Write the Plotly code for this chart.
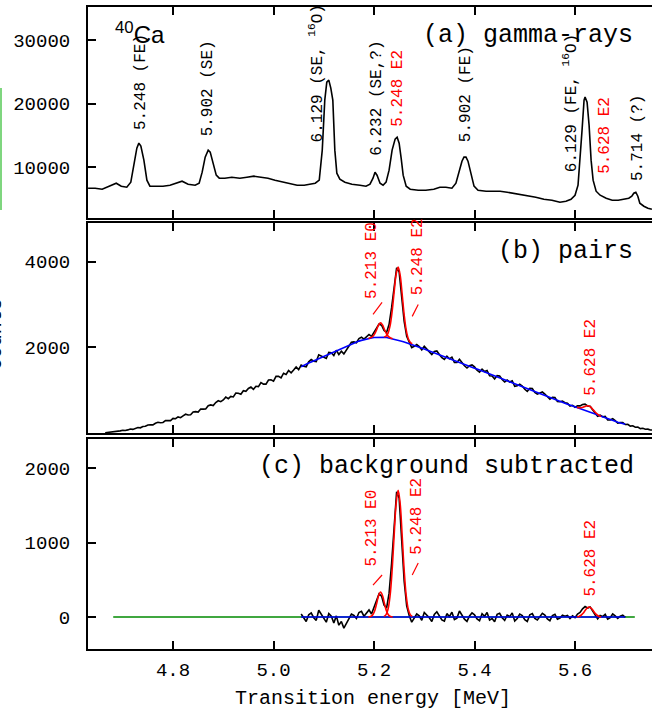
import numpy as np
import plotly.graph_objects as go

# ---------------- panel (a): gamma-ray spectrum ----------------
gamma_E = [4.631, 4.645, 4.659, 4.675, 4.687, 4.697, 4.708, 4.716, 4.722, 4.728, 4.732, 4.736, 4.742, 4.748,
           4.754, 4.766, 4.780, 4.794, 4.806, 4.818, 4.830, 4.844, 4.852, 4.858, 4.864, 4.870, 4.874, 4.880,
           4.886, 4.892, 4.903, 4.917, 4.933, 4.947, 4.961, 4.975, 4.989, 5.003, 5.019, 5.033, 5.047, 5.061,
           5.073, 5.083, 5.091, 5.097, 5.102, 5.106, 5.110, 5.114, 5.118, 5.122, 5.126, 5.132, 5.142, 5.156,
           5.172, 5.184, 5.192, 5.198, 5.202, 5.206, 5.212, 5.218, 5.224, 5.230, 5.236, 5.242, 5.246, 5.250,
           5.254, 5.258, 5.264, 5.272, 5.288, 5.303, 5.319, 5.331, 5.343, 5.355, 5.363, 5.369, 5.375, 5.379,
           5.383, 5.387, 5.393, 5.399, 5.407, 5.423, 5.439, 5.451, 5.465, 5.477, 5.491, 5.506, 5.522, 5.538,
           5.554, 5.570, 5.582, 5.592, 5.600, 5.606, 5.610, 5.614, 5.618, 5.620, 5.624, 5.628, 5.632, 5.636,
           5.642, 5.650, 5.662, 5.674, 5.686, 5.697, 5.707, 5.713, 5.717, 5.721, 5.725, 5.729, 5.737, 5.745,
           5.753]
gamma_counts = [6690, 6690, 6535, 7008, 7480, 7008, 6850, 7638, 10315, 12993, 13780, 13308, 11103, 7953,
                7008, 7008, 7008, 7165, 7480, 7795, 7323, 7165, 7480, 9213, 11575, 12678, 12363, 10630,
                8740, 8268, 8268, 8425, 8268, 8425, 8583, 8425, 8268, 7953, 7638, 7323, 7165, 7165,
                7323, 7480, 7953, 12678, 20553, 23388, 23703, 22443, 20553, 12678, 9055, 8110, 7638, 7323,
                7165, 7008, 7323, 8268, 9213, 8740, 7480, 7165, 7638, 9528, 12678, 14410, 14725, 13780,
                11418, 8740, 7008, 6535, 6378, 6378, 6535, 6850, 6850, 6693, 7480, 9213, 10945, 11575,
                11575, 10945, 8740, 7008, 6378, 6220, 6220, 6220, 6063, 5905, 5748, 5590, 5275, 4960,
                4803, 4488, 4645, 4960, 5590, 7165, 11103, 15828, 20553, 21025, 20238, 16615, 11103, 7953,
                6220, 5590, 5118, 4803, 4803, 4960, 5118, 5433, 5905, 6063, 5433, 4330, 3858, 3543,
                3385]

# ---------------- panel (b): pair spectrum (channels 4.665 ... 5.755 MeV, 5 keV wide) ----------------
pairs_E_start = 4.665
pairs_E_step = 0.005
pairs_counts = [7, 13, 17, 34, 38, 36, 51, 65, 60, 73, 95, 85, 110, 130, 122, 153, 157, 189, 192, 190,
                229, 251, 240, 247, 290, 295, 290, 340, 333, 376, 357, 401, 439, 422, 428, 490, 499, 488, 561, 557,
                561, 638, 655, 640, 713, 753, 732, 772, 837, 801, 855, 842, 933, 928, 906, 988, 974, 1039, 1072, 1019,
                1090, 1082, 1177, 1141, 1141, 1236, 1241, 1211, 1322, 1324, 1285, 1396, 1368, 1459, 1405, 1471, 1543, 1479,
                1585, 1560, 1546, 1662, 1713, 1674, 1665, 1826, 1790, 1761, 1738, 1880, 1872, 1809, 1931, 1832, 1909, 1846,
                1933, 2020, 2118, 2125, 2106, 2204, 2236, 2189, 2243, 2300, 2256, 2358, 2473, 2544, 2514, 2393, 2348, 2536,
                2924, 3441, 3856, 3758, 3191, 2603, 2255, 2104, 1994, 2023, 2063, 2017, 1941, 2022, 1963, 1905, 1831, 1902,
                1914, 1830, 1757, 1718, 1794, 1731, 1769, 1648, 1647, 1720, 1639, 1568, 1516, 1570, 1589, 1542, 1466, 1419,
                1491, 1433, 1459, 1335, 1332, 1263, 1340, 1331, 1247, 1189, 1235, 1191, 1220, 1088, 1101, 1140, 1098, 1021,
                974, 1043, 1036, 949, 907, 936, 957, 909, 836, 787, 834, 826, 737, 729, 746, 708, 694, 631,
                647, 602, 633, 634, 664, 675, 632, 623, 545, 472, 393, 415, 380, 389, 304, 304, 334, 288,
                233, 243, 243, 198,
                203, 161, 168, 135, 140, 104, 112, 88, 91, 71, 70]

# fitted smooth background (blue), same channels, 5.055 ... 5.700 MeV
bg_first_index = 78
bg_counts = [1545, 1580, 1606, 1632, 1658, 1684, 1710, 1736, 1755, 1781, 1808, 1835, 1862, 1889, 1916, 1942,
             1969, 1996, 2023, 2050, 2078, 2105, 2126, 2144, 2161, 2179, 2193, 2205, 2216, 2228, 2233, 2234,
             2234, 2233, 2228, 2216, 2204, 2191, 2176, 2158, 2141, 2123, 2105, 2084, 2064, 2043, 2023, 2002,
             1986, 1962, 1938, 1915, 1891, 1867, 1844, 1820, 1797, 1773, 1749, 1726, 1704, 1683, 1662, 1640,
             1619, 1598, 1576, 1555, 1534, 1512, 1491, 1469, 1446, 1423, 1399, 1375, 1352, 1328, 1305, 1281,
             1257, 1234, 1210, 1186, 1165, 1143, 1121, 1100, 1078, 1056, 1034, 1013, 991, 969, 947, 926,
             907, 884, 861, 837, 814, 791, 767, 744, 721, 698, 674, 651, 632, 612, 593, 574,
             554, 535, 512, 488, 465, 442, 418, 395, 375, 354, 334, 314, 294, 273, 253, 233,
             218, 203]

# fitted peaks (red) on top of the background in (b)
fit_E0_E = [5.189, 5.193, 5.197, 5.201, 5.205, 5.209, 5.213, 5.217, 5.221, 5.225, 5.229, 5.233, 5.237]
fit_E0_b = [2206, 2221, 2247, 2307, 2407, 2519, 2569, 2519, 2407, 2310, 2247, 2218, 2201]
fit_E2a_E = [5.220, 5.224, 5.228, 5.232, 5.236, 5.240, 5.244, 5.248, 5.252, 5.256, 5.260, 5.264, 5.268, 5.272, 5.276]
fit_E2a_b = [2240, 2262, 2332, 2504, 2832, 3285, 3702, 3870, 3682, 3237, 2757, 2404, 2207, 2120, 2082]
fit_E2b_E = [5.604, 5.608, 5.612, 5.616, 5.620, 5.624, 5.628, 5.632, 5.636, 5.640, 5.644, 5.648, 5.652]
fit_E2b_b = [599, 590, 589, 600, 621, 636, 632, 599, 546, 491, 446, 412, 388]

# fitted peaks (red) after background subtraction in (c)
fit_E0_c = [1, 6, 25, 77, 174, 285, 335, 285, 174, 77, 25, 6, 1]
fit_E2a_c = [7, 32, 107, 289, 627, 1092, 1522, 1700, 1522, 1092, 627, 289, 107, 32, 7]
fit_E2b_c = [2, 8, 23, 49, 86, 120, 134, 120, 86, 49, 23, 8, 2]

zero_line_E = [4.681, 5.719]
zero_line_c = [0, 0]

x_ticks = [4.8, 5.0, 5.2, 5.4, 5.6]
x_tick_text = ["4.8", "5.0", "5.2", "5.4", "5.6"]
ya_ticks = [10000, 20000, 30000]
yb_ticks = [2000, 4000]
yc_ticks = [0, 1000, 2000]

# ---------------- derived arrays ----------------
pairs_E = np.round(pairs_E_start + pairs_E_step * np.arange(len(pairs_counts)), 3)
pairs_arr = np.array(pairs_counts, dtype=float)
bg_arr = np.array(bg_counts, dtype=float)
bg_E = pairs_E[bg_first_index:bg_first_index + len(bg_counts)]
sub_counts = pairs_arr[bg_first_index:bg_first_index + len(bg_counts)] - bg_arr

MONO = "Liberation Mono, Courier New, monospace"
RED = "#ff0000"
BLUE = "#0000ff"
GREEN = "#008a00"

fig = go.Figure()
LW = 1.6

# panel a
fig.add_trace(go.Scatter(x=gamma_E, y=gamma_counts, mode="lines", line=dict(color="black", width=LW),
                         xaxis="x3", yaxis="y3", showlegend=False))
# panel b
fig.add_trace(go.Scatter(x=pairs_E, y=pairs_arr, mode="lines", line=dict(color="black", width=LW),
                         xaxis="x2", yaxis="y2", showlegend=False))
fig.add_trace(go.Scatter(x=bg_E, y=bg_arr, mode="lines", line=dict(color=BLUE, width=LW),
                         xaxis="x2", yaxis="y2", showlegend=False))
for xe, yv in [(fit_E0_E, fit_E0_b), (fit_E2a_E, fit_E2a_b), (fit_E2b_E, fit_E2b_b)]:
    fig.add_trace(go.Scatter(x=xe, y=yv, mode="lines", line=dict(color=RED, width=LW, shape="spline"),
                             xaxis="x2", yaxis="y2", showlegend=False))
# panel c
fig.add_trace(go.Scatter(x=zero_line_E, y=zero_line_c, mode="lines", line=dict(color=GREEN, width=LW),
                         xaxis="x", yaxis="y", showlegend=False))
fig.add_trace(go.Scatter(x=bg_E, y=sub_counts, mode="lines", line=dict(color="black", width=LW),
                         xaxis="x", yaxis="y", showlegend=False))
fig.add_trace(go.Scatter(x=[bg_E[0], bg_E[-1]], y=[0, 0], mode="lines", line=dict(color=BLUE, width=LW),
                         xaxis="x", yaxis="y", showlegend=False))
for xe, yv in [(fit_E0_E, fit_E0_c), (fit_E2a_E, fit_E2a_c), (fit_E2b_E, fit_E2b_c)]:
    fig.add_trace(go.Scatter(x=xe, y=yv, mode="lines", line=dict(color=RED, width=LW, shape="spline"),
                             xaxis="x", yaxis="y", showlegend=False))

XR = [4.6308, 5.7532]
tickfont = dict(family=MONO, size=19, color="black")
xcommon = dict(range=XR, tickvals=x_ticks, ticktext=x_tick_text, ticks="inside", ticklen=8, tickwidth=1.5,
               tickcolor="black", showline=True, linewidth=2, linecolor="black", mirror="ticks",
               showgrid=False, zeroline=False, tickfont=tickfont, ticklabelstandoff=2)
ycommon = dict(ticks="inside", ticklen=8, tickwidth=1.5, tickcolor="black", showline=True, linewidth=2,
               linecolor="black", mirror=False, showgrid=False, zeroline=False, tickfont=tickfont,
               ticklabelstandoff=12)

fig.update_layout(
    width=652, height=709, margin=dict(l=88, r=0, t=7, b=60),
    paper_bgcolor="white", plot_bgcolor="white",
    xaxis=dict(**xcommon, anchor="y", domain=[0, 1]),
    xaxis2=dict(**xcommon, anchor="y2", domain=[0, 1], showticklabels=False),
    xaxis3=dict(**xcommon, anchor="y3", domain=[0, 1], showticklabels=False),
    yaxis=dict(**ycommon, domain=[0, 0.3271], range=[-430, 2390], tickvals=yc_ticks,
               ticktext=[str(v) for v in yc_ticks]),
    yaxis2=dict(**ycommon, domain=[0.3364, 0.6636], range=[0, 4900], tickvals=yb_ticks,
                ticktext=[str(v) for v in yb_ticks]),
    yaxis3=dict(**ycommon, domain=[0.6713, 1], range=[2000, 35200], tickvals=ya_ticks,
                ticktext=[str(v) for v in ya_ticks]),
)

ann = []
def rlabel(text, x, y, xa, ya, color="black", size=16):
    ann.append(dict(text=text, x=x, y=y, xref=xa, yref=ya, showarrow=False, textangle=-90,
                    xanchor="center", yanchor="bottom", font=dict(family=MONO, size=size, color=color),
                    borderpad=0))

# panel a labels
rlabel("5.248 (FE)", 4.736, 15670, "x3", "y3")
rlabel("5.902 (SE)", 4.870, 14725, "x3", "y3")
rlabel("6.129 (SE, <sup>16</sup>O)", 5.085, 13780, "x3", "y3")
rlabel("6.232 (SE,?)", 5.206, 11575, "x3", "y3")
rlabel("5.248 E2", 5.246, 16143, "x3", "y3", RED)
rlabel("5.902 (FE)", 5.383, 13780, "x3", "y3")
rlabel("6.129 (FE, <sup>16</sup>O)", 5.590, 9055, "x3", "y3")
rlabel("5.628 E2", 5.660, 8740, "x3", "y3", RED)
rlabel("5.714 (?)", 5.725, 7638, "x3", "y3")
# panel b labels
rlabel("5.213 E0", 5.196, 3093, "x2", "y2", RED)
rlabel("5.248 E2", 5.288, 3186, "x2", "y2", RED)
rlabel("5.628 E2", 5.632, 837, "x2", "y2", RED)
# panel c labels
rlabel("5.213 E0", 5.196, 658, "x", "y", RED)
rlabel("5.248 E2", 5.286, 819, "x", "y", RED)
rlabel("5.628 E2", 5.632, 255, "x", "y", RED)

big = dict(family=MONO, size=25, color="black")
ann.append(dict(text="(a) gamma-rays", x=5.719, y=30790, xref="x3", yref="y3", showarrow=False,
                xanchor="right", yanchor="middle", font=big))
ann.append(dict(text="(b) pairs", x=5.719, y=4233, xref="x2", yref="y2", showarrow=False,
                xanchor="right", yanchor="middle", font=big))
ann.append(dict(text="(c) background subtracted", x=5.721, y=2026, xref="x", yref="y", showarrow=False,
                xanchor="right", yanchor="middle", font=big))
ann.append(dict(text="<sup>40</sup>Ca", x=4.681, y=31100, xref="x3", yref="y3", showarrow=False,
                xanchor="left", yanchor="middle", font=dict(family="Liberation Sans, Arial", size=24, color="black")))
ann.append(dict(text="Transition energy [MeV]", x=0.506, y=-0.0775, xref="paper", yref="paper",
                showarrow=False, xanchor="center", yanchor="middle", font=dict(family=MONO, size=20, color="black")))
ann.append(dict(text="Counts", x=-0.165, y=0.49, xref="paper", yref="paper", showarrow=False,
                textangle=-90, xanchor="center", yanchor="middle", font=dict(family=MONO, size=20, color="black")))
fig.update_layout(annotations=ann)

# leader ticks next to the red labels
shapes = []
for xr, yr, x0, y0, x1, y1 in [("x2", "y2", 5.198, 2768, 5.216, 3047),
                               ("x2", "y2", 5.276, 2721, 5.288, 3000),
                               ("x", "y", 5.198, 429, 5.216, 564),
                               ("x", "y", 5.276, 564, 5.288, 725)]:
    shapes.append(dict(type="line", xref=xr, yref=yr, x0=x0, y0=y0, x1=x1, y1=y1,
                       line=dict(color=RED, width=1.2)))
shapes.append(dict(type="line", xref="paper", yref="paper", x0=-88 / 564 + 0.0018, x1=-88 / 564 + 0.0018,
                   y0=1 - (88 - 7) / 642, y1=1 - (210 - 7) / 642, line=dict(color="#7fd67f", width=2)))
fig.update_layout(shapes=shapes)

fig.write_html("out.html")
